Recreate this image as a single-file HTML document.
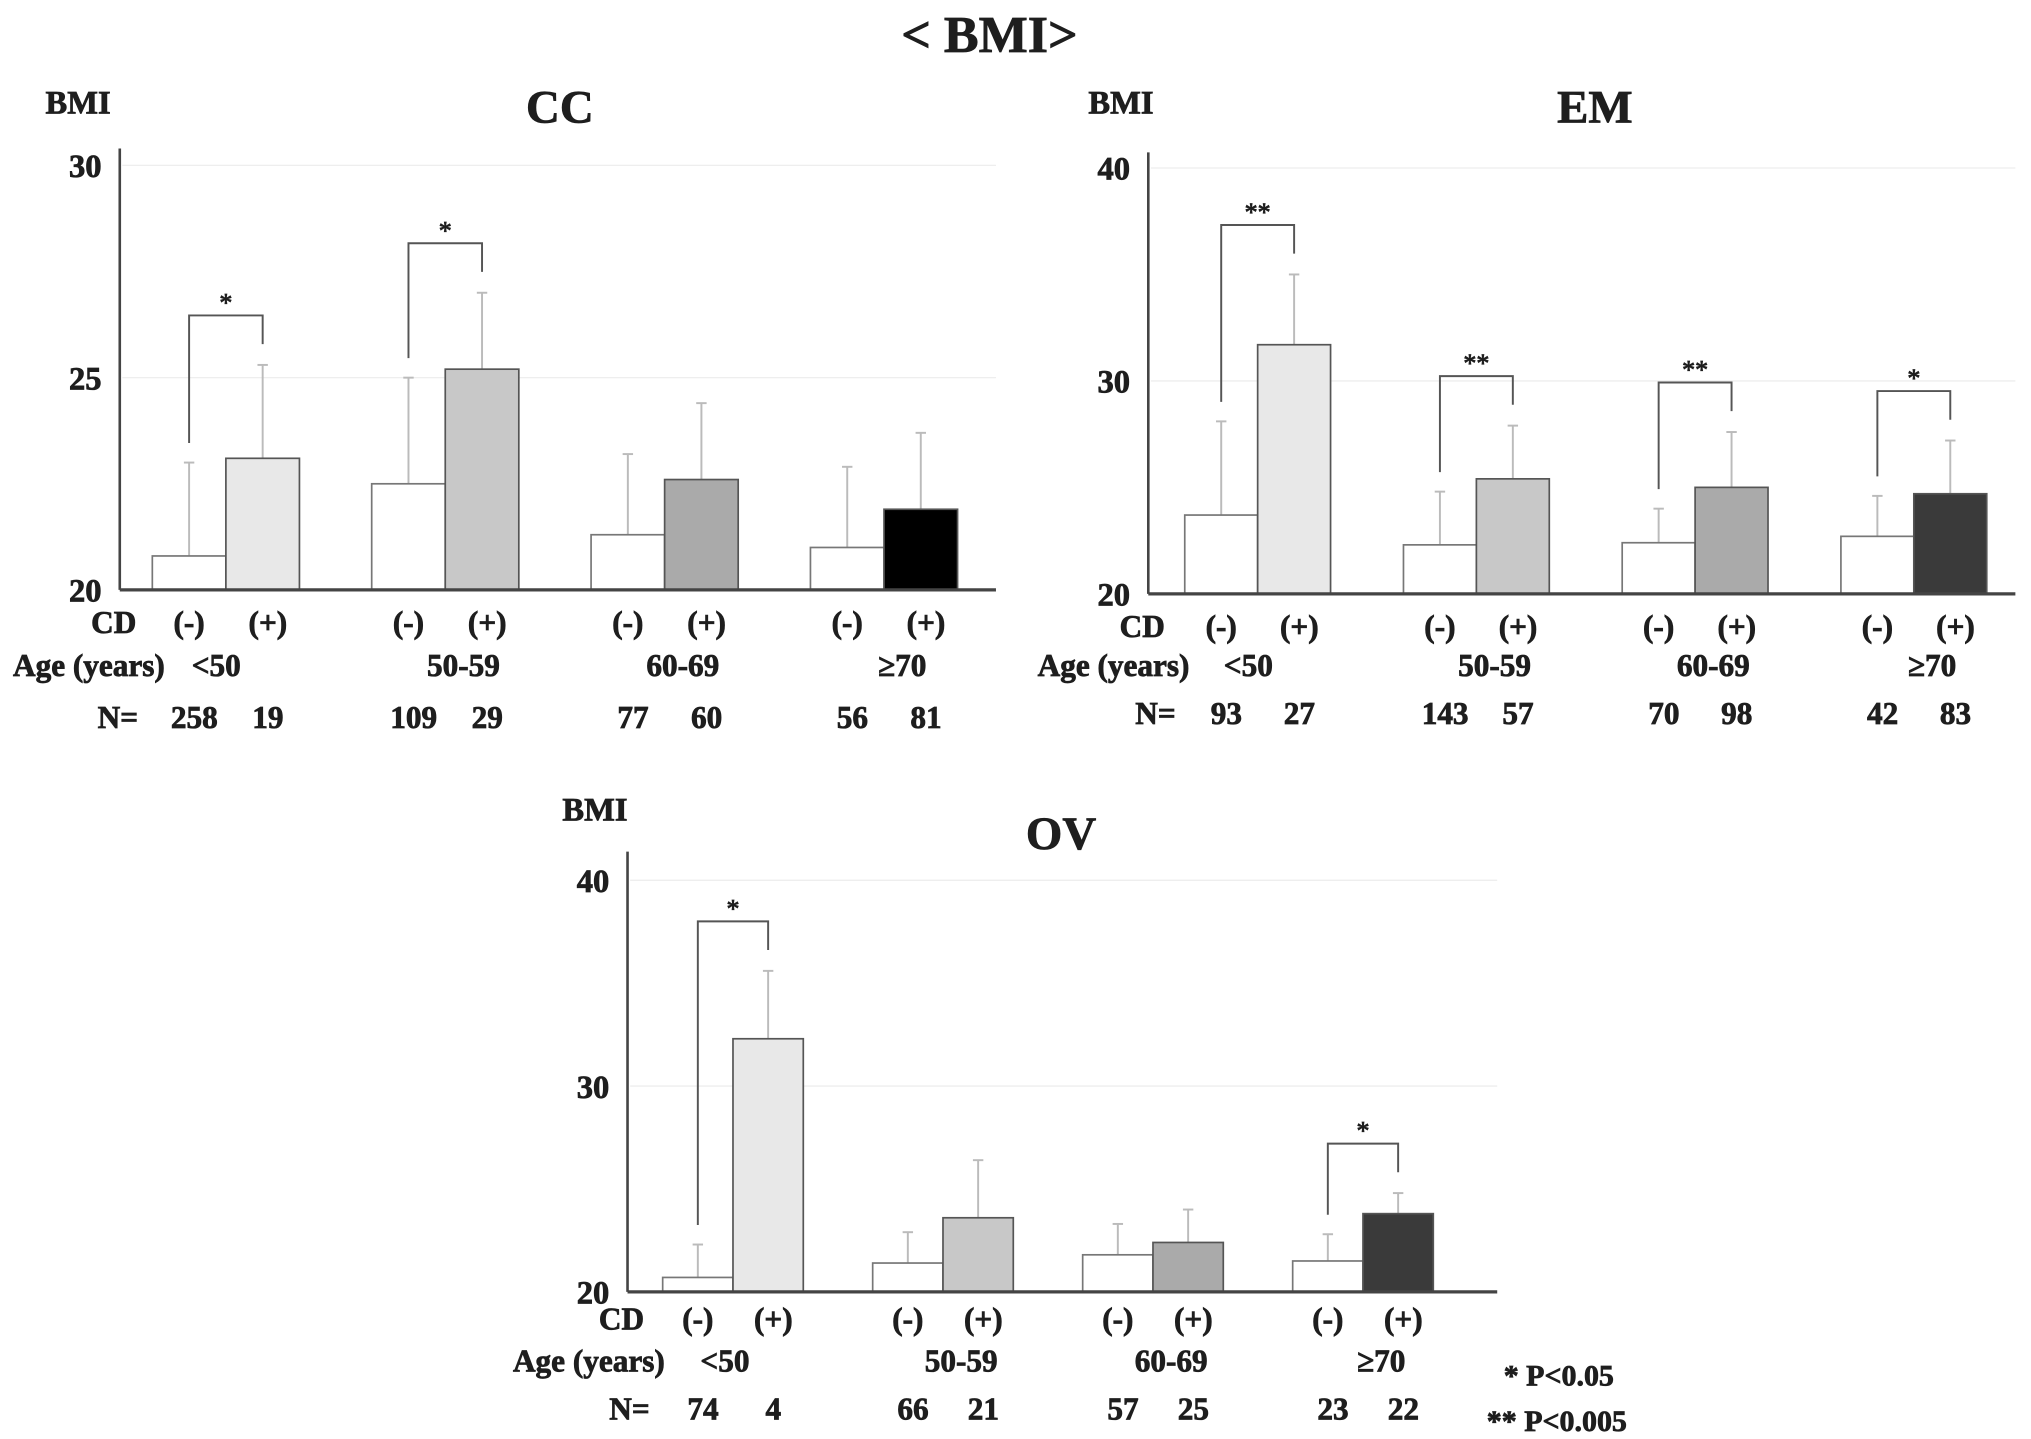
<!DOCTYPE html>
<html><head><meta charset="utf-8"><style>
html,body{margin:0;padding:0;background:#fff;}
svg{display:block;}
text{font-family:"Liberation Serif","Times New Roman",serif;fill:#1e1e1e;stroke:#1e1e1e;stroke-width:0.6;}
</style></head><body>
<svg id="chart" width="2031" height="1439" viewBox="0 0 1560 1105" preserveAspectRatio="none" xmlns="http://www.w3.org/2000/svg" font-family="Liberation Serif, serif">
<rect width="1560" height="1105" fill="#fff"/>
<text x="760" y="40" font-size="40" text-anchor="middle" font-weight="bold">&lt; BMI&gt;</text>
<text x="1155" y="1064" font-size="23" font-weight="bold">* P&lt;0.05</text>
<text x="1142" y="1099" font-size="23" font-weight="bold">** P&lt;0.005</text>
</svg>
<script>
const ageGroups = ["<50", "50-59", "60-69", "≥70"];
const ccNeg = [20.8, 22.5, 21.3, 21.0];
const ccPos = [23.1, 25.2, 22.6, 21.9];
const ccNegErr = [23.0, 25.0, 23.2, 22.9];
const ccPosErr = [25.3, 27.0, 24.4, 23.7];
const ccNNeg = ["258", "109", "77", "56"];
const ccNPos = ["19", "29", "60", "81"];
const ccSig = ["*", "*", "", ""];
const ccTicks = [20, 25, 30];

const emNeg = [23.7, 22.3, 22.4, 22.7];
const emPos = [31.7, 25.4, 25.0, 24.7];
const emNegErr = [28.1, 24.8, 24.0, 24.6];
const emPosErr = [35.0, 27.9, 27.6, 27.2];
const emNNeg = ["93", "143", "70", "42"];
const emNPos = ["27", "57", "98", "83"];
const emSig = ["**", "**", "**", "*"];
const emTicks = [20, 30, 40];

const ovNeg = [20.7, 21.4, 21.8, 21.5];
const ovPos = [32.3, 23.6, 22.4, 23.8];
const ovNegErr = [22.3, 22.9, 23.3, 22.8];
const ovPosErr = [35.6, 26.4, 24.0, 24.8];
const ovNNeg = ["74", "66", "57", "23"];
const ovNPos = ["4", "21", "25", "22"];
const ovSig = ["*", "", "", "*"];
const ovTicks = [20, 30, 40];

const NS = "http://www.w3.org/2000/svg";
const svg = document.getElementById("chart");
function mk(tag, attrs, parent) {
  const e = document.createElementNS(NS, tag);
  for (const k in attrs) e.setAttribute(k, attrs[k]);
  (parent || svg).appendChild(e);
  return e;
}
function txt(x, y, s, size, anchor, parent) {
  const t = mk("text", {x: x, y: y, "font-size": size, "text-anchor": anchor || "middle", "font-family": "Liberation Serif, serif", "font-weight": "bold"}, parent);
  t.textContent = s;
  return t;
}

function panel(p) {
  const g = mk("g", {});
  
  
  const ymin = p.ticks[0], ymax = p.ticks[p.ticks.length - 1];
  const yS = v => p.base - (v - ymin) / (ymax - ymin) * (p.base - p.top);
  const t1 = txt(p.bmiX, p.bmiY, "BMI", 25, "start", g);
  
  
  const t2 = txt(p.titleX, p.titleY, p.id.toUpperCase(), 36, "middle", g);
  
  
  p.ticks.forEach((tv, i) => {
    const y = yS(tv);
    if (i > 0) {
      const gl = mk("line", {x1: p.ax + 2, x2: p.right, y1: y, y2: y, stroke: "#eee", "stroke-width": 1}, g);
      
      
    }
    const tl = txt(p.ax - 14, y + 9, String(tv), 25, "end", g);
    
    
  });
  const bw = p.bw;
  const labels = mk("g", {}, g);
  const cdl = txt(p.ax - 22, p.cdY, "CD", 24, "start", labels);
  
  
  const agl = txt(p.ageX, p.ageY, "Age (years)", 24, "start", labels);
  
  
  const nl = txt(p.nX, p.nY, "N=", 24, "start", labels);
  
  
  for (let i = 0; i < 4; i++) {
    const x0 = p.g0 + i * p.gs;
    const cN = x0 + bw / 2, cP = x0 + bw * 1.5;
    [[cN, p.neg[i], p.negErr[i]], [cP, p.pos[i], p.posErr[i]]].forEach(([cx, v, e]) => {
      const l = mk("line", {x1: cx, x2: cx, y1: yS(v), y2: yS(e), stroke: "#bbb", "stroke-width": 1.5}, g);
      
      
      const c = mk("line", {x1: cx - 4, x2: cx + 4, y1: yS(e), y2: yS(e), stroke: "#bbb", "stroke-width": 1.5}, g);
      
      
    });
    const bn = mk("rect", {x: x0, y: yS(p.neg[i]), width: bw, height: p.base - yS(p.neg[i]), fill: "#fff", stroke: "#777", "stroke-width": 1.3}, g);
    
    
    const bp = mk("rect", {x: x0 + bw, y: yS(p.pos[i]), width: bw, height: p.base - yS(p.pos[i]), fill: p.colors[i], stroke: "#555", "stroke-width": 1.3}, g);
    
    
    if (p.sig[i]) {
      const topV = Math.max(p.negErr[i], p.posErr[i]);
      const yTop = yS(topV) - 38;
      const br = mk("path", {d: `M${cN} ${yS(p.negErr[i]) - 15} V${yTop} H${cP} V${yTop + 22}`, fill: "none", stroke: "#555", "stroke-width": 1.5}, g);
      
      
      const st = mk("text", {x: (cN + cP) / 2, y: yTop - 3, "font-size": 20, "text-anchor": "middle", fill: "#777", stroke: "none", "font-family": "Liberation Serif, serif"}, g);
      st.textContent = p.sig[i];
      
      
    }
    const a = txt(cN, p.cdY, "(-)", 24, "middle", labels);
    
    
    const b = txt(cP + 4, p.cdY, "(+)", 24, "middle", labels);
    
    
    const ag = txt(i === 0 ? cN + 2 : x0 + bw + 14, p.ageY, ageGroups[i], 24, i === 0 ? "start" : "middle", labels);
    
    
    const n1 = txt(cN + 4, p.nY, p.nNeg[i], 24, "middle", labels);
    
    
    const n2 = txt(cP + 4, p.nY, p.nPos[i], 24, "middle", labels);
    
    
  }
  const ya = mk("line", {x1: p.ax, x2: p.ax, y1: p.axTop, y2: p.base, stroke: "#444", "stroke-width": 2}, g);
  
  
  const xa = mk("line", {x1: p.ax, x2: p.right, y1: p.base, y2: p.base, stroke: "#444", "stroke-width": 2.5}, g);
  
  
}

panel({id: "cc", neg: ccNeg, pos: ccPos, negErr: ccNegErr, posErr: ccPosErr, nNeg: ccNNeg, nPos: ccNPos, sig: ccSig, ticks: ccTicks,
  colors: ["#e8e8e8", "#c8c8c8", "#aaaaaa", "#000"], ax: 92, axTop: 114, top: 127, base: 453, right: 765,
  g0: 117, gs: 168.5, bw: 56.5, bmiX: 35, bmiY: 87, titleX: 430, titleY: 94, cdY: 486, ageX: 10, ageY: 519, nX: 75, nY: 559});
panel({id: "em", neg: emNeg, pos: emPos, negErr: emNegErr, posErr: emPosErr, nNeg: emNNeg, nPos: emNPos, sig: emSig, ticks: emTicks,
  colors: ["#e8e8e8", "#c8c8c8", "#aaaaaa", "#3a3a3a"], ax: 882, axTop: 117, top: 129, base: 456, right: 1548,
  g0: 910, gs: 168, bw: 56, bmiX: 836, bmiY: 87, titleX: 1225, titleY: 94, cdY: 489, ageX: 797, ageY: 519, nX: 872, nY: 556});
panel({id: "ov", neg: ovNeg, pos: ovPos, negErr: ovNegErr, posErr: ovPosErr, nNeg: ovNNeg, nPos: ovNPos, sig: ovSig, ticks: ovTicks,
  colors: ["#e8e8e8", "#c8c8c8", "#aaaaaa", "#3a3a3a"], ax: 482, axTop: 654, top: 676, base: 992, right: 1150,
  g0: 509, gs: 161.3, bw: 54, bmiX: 432, bmiY: 630, titleX: 815, titleY: 652, cdY: 1021, ageX: 394, ageY: 1053, nX: 468, nY: 1090});
</script>
</body></html>
